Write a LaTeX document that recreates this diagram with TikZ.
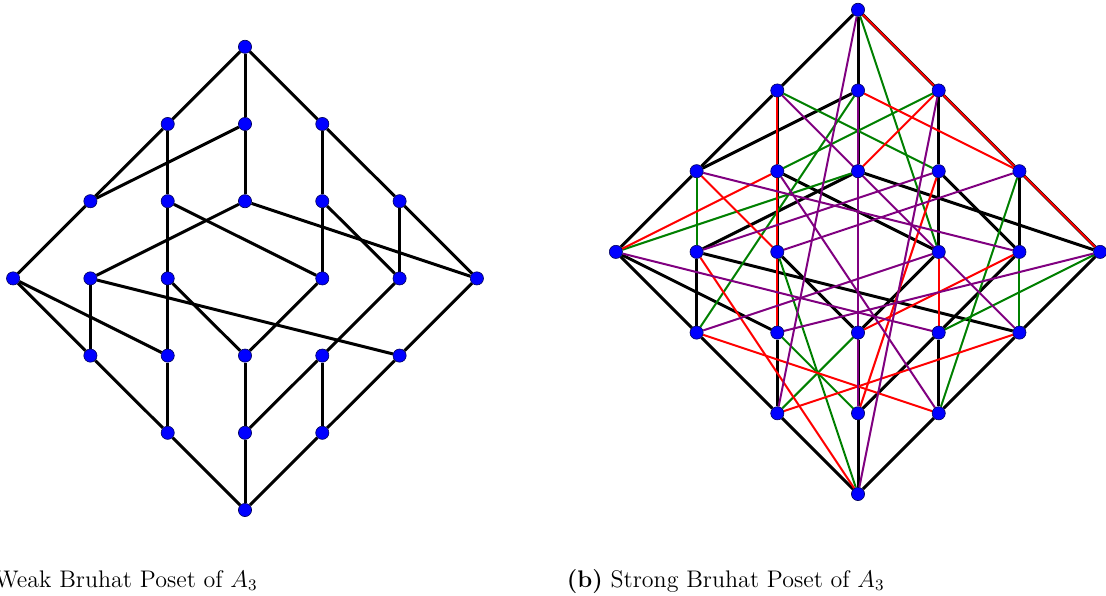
\documentclass[tikz,border=0pt]{standalone}
\usepackage{amsmath}
\usepackage{tikz}
\usetikzlibrary{backgrounds}

\definecolor{sagegreen}{rgb}{0,0.5,0}
\definecolor{sagepurple}{rgb}{0.5,0,0.5}

\tikzset{
  dot/.style={circle,fill=blue,draw=blue!35!black,line width=0.3pt,inner sep=0pt,minimum size=6.6pt},
  cov/.style={line width=1.5pt,black},
  trg/.style={line width=1pt,sagegreen},
  trr/.style={line width=1pt,red},
  trp/.style={line width=1pt,sagepurple}
}

\begin{document}
\begin{tikzpicture}[x=0.5pt,y=0.5pt]
\useasboundingbox (0,0) rectangle (1106,595);

% weak order
\begin{scope}[shift={(245,85)},x=38.65pt,y=38.6pt]
   \node[dot] (a4321) at (0,6) {};
   \node[dot] (a3421) at (-1,5) {};
   \node[dot] (a4312) at (0,5) {};
   \node[dot] (a4231) at (1,5) {};
   \node[dot] (a3412) at (-2,4) {};
   \node[dot] (a3241) at (-1,4) {};
   \node[dot] (a4132) at (0,4) {};
   \node[dot] (a2431) at (1,4) {};
   \node[dot] (a4213) at (2,4) {};
   \node[dot] (a3142) at (-3,3) {};
   \node[dot] (a1432) at (-2,3) {};
   \node[dot] (a3214) at (-1,3) {};
   \node[dot] (a2341) at (1,3) {};
   \node[dot] (a2413) at (2,3) {};
   \node[dot] (a4123) at (3,3) {};
   \node[dot] (a1342) at (-2,2) {};
   \node[dot] (a3124) at (-1,2) {};
   \node[dot] (a2314) at (0,2) {};
   \node[dot] (a2143) at (1,2) {};
   \node[dot] (a1423) at (2,2) {};
   \node[dot] (a1324) at (-1,1) {};
   \node[dot] (a2134) at (0,1) {};
   \node[dot] (a1243) at (1,1) {};
   \node[dot] (a1234) at (0,0) {};
   \begin{scope}[on background layer]
    \path[cov]
    (a4321) edge (a3421) (a4321) edge (a4312) (a4321) edge (a4231)
    (a3421) edge (a3241) (a3421) edge (a3412)
    (a4312) edge (a3412) (a4312) edge (a4132)
    (a4231) edge (a2431) (a4231) edge (a4213)
    (a3412) edge (a3142)
    (a3241) edge (a2341) (a3241) edge (a3214)
    (a4132) edge (a1432) (a4132) edge (a4123)
    (a2431) edge (a2341) (a2431) edge (a2413)
    (a4213) edge (a2413) (a4213) edge (a4123)
    (a3142) edge (a1342) (a3142) edge (a3124)
    (a1432) edge (a1342) (a1432) edge (a1423)
    (a3214) edge (a2314) (a3214) edge (a3124)
    (a2341) edge (a2314)
    (a2413) edge (a2143)
    (a4123) edge (a1423)
    (a1342) edge (a1324)
    (a3124) edge (a1324)
    (a2314) edge (a2134)
    (a2143) edge (a1243) (a2143) edge (a2134)
    (a1423) edge (a1243)
    (a1324) edge (a1234) (a2134) edge (a1234) (a1243) edge (a1234);
   \end{scope}
\end{scope}

% strong order
\begin{scope}[shift={(858,101)},x=40.35pt,y=40.35pt]
   \node[dot] (b4321) at (0,6) {};
   \node[dot] (b3421) at (-1,5) {};
   \node[dot] (b4312) at (0,5) {};
   \node[dot] (b4231) at (1,5) {};
   \node[dot] (b3412) at (-2,4) {};
   \node[dot] (b3241) at (-1,4) {};
   \node[dot] (b4132) at (0,4) {};
   \node[dot] (b2431) at (1,4) {};
   \node[dot] (b4213) at (2,4) {};
   \node[dot] (b3142) at (-3,3) {};
   \node[dot] (b1432) at (-2,3) {};
   \node[dot] (b3214) at (-1,3) {};
   \node[dot] (b2341) at (1,3) {};
   \node[dot] (b2413) at (2,3) {};
   \node[dot] (b4123) at (3,3) {};
   \node[dot] (b1342) at (-2,2) {};
   \node[dot] (b3124) at (-1,2) {};
   \node[dot] (b2314) at (0,2) {};
   \node[dot] (b2143) at (1,2) {};
   \node[dot] (b1423) at (2,2) {};
   \node[dot] (b1324) at (-1,1) {};
   \node[dot] (b2134) at (0,1) {};
   \node[dot] (b1243) at (1,1) {};
   \node[dot] (b1234) at (0,0) {};
   \begin{scope}[on background layer]
    % simple reflections
    \path[cov]
    (b4321) edge (b3421) (b4321) edge (b4312) (b4321) edge (b4231)
    (b3421) edge (b3241) (b3421) edge (b3412)
    (b4312) edge (b3412) (b4312) edge (b4132)
    (b4231) edge (b2431) (b4231) edge (b4213)
    (b3412) edge (b3142)
    (b3241) edge (b2341) (b3241) edge (b3214)
    (b4132) edge (b1432) (b4132) edge (b4123)
    (b2431) edge (b2341) (b2431) edge (b2413)
    (b4213) edge (b2413) (b4213) edge (b4123)
    (b3142) edge (b1342) (b3142) edge (b3124)
    (b1432) edge (b1342) (b1432) edge (b1423)
    (b3214) edge (b2314) (b3214) edge (b3124)
    (b2341) edge (b2314)
    (b2413) edge (b2143)
    (b4123) edge (b1423)
    (b1342) edge (b1324)
    (b3124) edge (b1324)
    (b2314) edge (b2134)
    (b2143) edge (b1243) (b2143) edge (b2134)
    (b1423) edge (b1243)
    (b1324) edge (b1234) (b2134) edge (b1234) (b1243) edge (b1234);
    % (1 3)
    \path[trg]
    (b4321) edge (b2341) (b3421) edge (b2431) (b4312) edge (b1342)
    (b4231) edge (b3241) (b3412) edge (b1432) (b4132) edge (b3142)
    (b4213) edge (b1243) (b3214) edge (b1234) (b2413) edge (b1423)
    (b4123) edge (b2143) (b3124) edge (b2134) (b2314) edge (b1324);
    % (2 4)
    \path[trr]
    (b4321) edge (b4123) (b3421) edge (b3124) (b4312) edge (b4213)
    (b4231) edge (b4132) (b3412) edge (b3214) (b3241) edge (b3142)
    (b2431) edge (b2134) (b1432) edge (b1234) (b2341) edge (b2143)
    (b2413) edge (b2314) (b1342) edge (b1243) (b1423) edge (b1324);
    % (1 4)
    \path[trp]
    (b4321) edge (b1324) (b3421) edge (b1423) (b4312) edge (b2314)
    (b4231) edge (b1234) (b3412) edge (b2413) (b3241) edge (b1243)
    (b4132) edge (b2134) (b2431) edge (b1432) (b4213) edge (b3214)
    (b3142) edge (b2143) (b2341) edge (b1342) (b4123) edge (b3124);
   \end{scope}
\end{scope}

\node[anchor=base east,font=\fontsize{12}{14}\selectfont,inner sep=0pt] (capa) at (258,8)
   {(a) Weak Bruhat Poset of $A_3$};
\node[anchor=base east,font=\fontsize{12}{14}\selectfont,inner sep=0pt] (capb) at (885,8)
   {\textbf{(b)} Strong Bruhat Poset of $A_3$};
\end{tikzpicture}
\end{document}
